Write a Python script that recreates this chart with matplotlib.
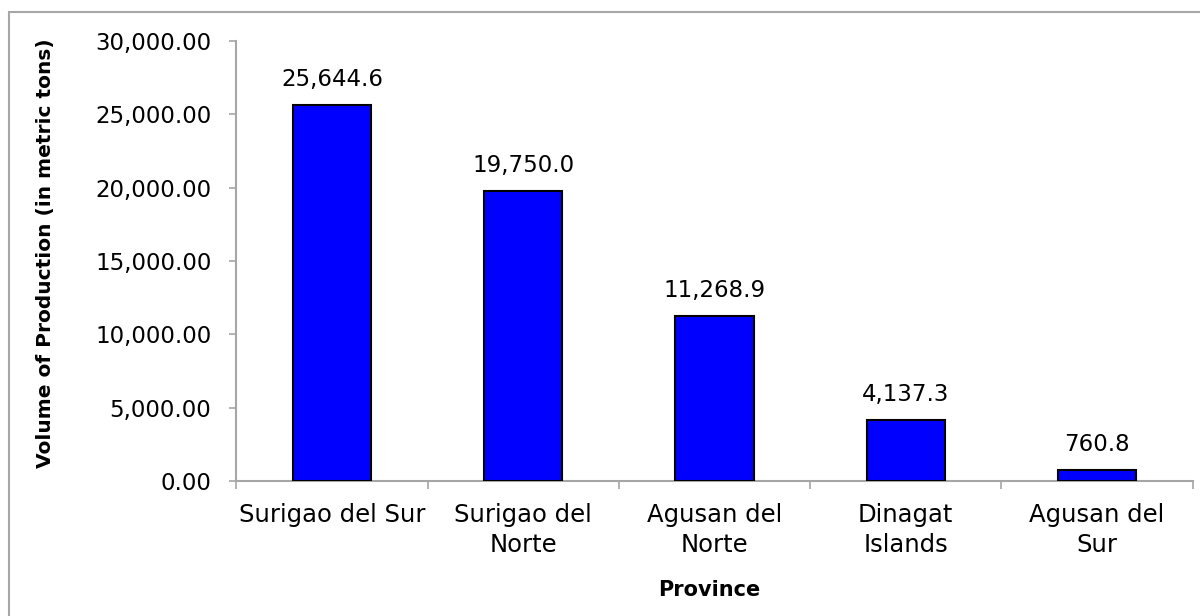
import matplotlib.pyplot as plt
from matplotlib.patches import Rectangle
from matplotlib.ticker import FuncFormatter
import numpy as np

provinces = ["Surigao del Sur", "Surigao del\nNorte", "Agusan del\nNorte",
             "Dinagat\nIslands", "Agusan del\nSur"]
volumes = [25644.6, 19750.0, 11268.9, 4137.3, 760.8]
y_ticks = [0, 5000, 10000, 15000, 20000, 25000, 30000]

plt.rcParams['font.family'] = ['DejaVu Sans']
grey = "#a6a6a6"

fig = plt.figure(figsize=(12, 6.16), dpi=100)
ax = fig.add_axes([0.197, 0.2192, 0.7968, 0.7142])

# outer chart border
fig.patches.append(Rectangle((9 / 1200, -0.1), 1.2, 1 - 12 / 616 + 0.1,
                             transform=fig.transFigure, fill=False,
                             edgecolor=grey, linewidth=1.5))

x = np.arange(len(provinces))
bars = ax.bar(x, volumes, width=0.41, color="#0000ff", edgecolor="black",
              linewidth=1.5, zorder=3)

for b, v in zip(bars, volumes):
    ax.annotate(f"{v:,.1f}", (b.get_x() + b.get_width() / 2, v),
                xytext=(0, 10), textcoords="offset points",
                ha="center", va="bottom", fontsize=16.5)

ax.set_xlim(-0.5, len(provinces) - 0.5)
ax.set_ylim(0, 30000)
ax.set_yticks(y_ticks)
ax.yaxis.set_major_formatter(FuncFormatter(lambda v, p: f"{v:,.2f}"))

ax.set_xticks(x)
ax.set_xticklabels(provinces, fontsize=17.5, linespacing=1.3)
ax.set_xticks(np.arange(len(provinces) + 1) - 0.5, minor=True)
ax.tick_params(axis="x", which="major", length=0, pad=16)
ax.tick_params(axis="x", which="minor", length=6, width=1.2, color=grey,
               direction="out")
ax.tick_params(axis="y", length=5, width=1.2, color=grey, labelsize=16.5,
               pad=13)

for s in ["top", "right"]:
    ax.spines[s].set_visible(False)
for s in ["left", "bottom"]:
    ax.spines[s].set_color(grey)
    ax.spines[s].set_linewidth(1.5)

ax.set_ylabel("Volume of Production (in metric tons)", fontsize=14.5,
              fontweight="bold")
ax.yaxis.set_label_coords(-0.19, 0.517)
ax.set_xlabel("Province", fontsize=15, fontweight="bold")
ax.xaxis.set_label_coords(0.495, -0.225)

fig.savefig("out.png", dpi=100)
